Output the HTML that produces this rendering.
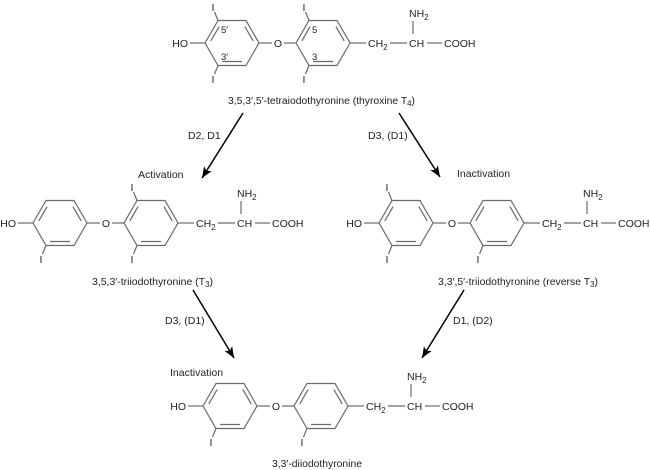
<!DOCTYPE html>
<html><head><meta charset="utf-8"><style>
html,body{margin:0;padding:0;background:#fff;}
svg{display:block;}
text{font-family:"Liberation Sans",Arial,sans-serif;font-size:10.5px;fill:#222;}
.m line,.m polygon{stroke:#6a6a6a;stroke-width:1.2;fill:none;}
.lab{font-size:9.5px;}
.ar{stroke:#000;stroke-width:1.5;fill:none;}
</style></head><body>
<svg width="650" height="470" viewBox="0 0 650 470" xmlns="http://www.w3.org/2000/svg">
<defs>
<g id="ring" fill="none" stroke="#6a6a6a" stroke-width="1.2">
<polygon points="-27,0 -14,-22.5 14,-22.5 27,0 14,22.5 -14,22.5" fill="none" stroke="#6a6a6a" stroke-width="1.2"/>
<line x1="-21.2" y1="-2.05" x2="-12.9" y2="-16.45" stroke="#6a6a6a" stroke-width="1.2"/>
<line x1="12.9" y1="-16.45" x2="21.2" y2="-2.05" stroke="#6a6a6a" stroke-width="1.2"/>
<line x1="-10" y1="18.5" x2="10" y2="18.5" stroke="#6a6a6a" stroke-width="1.2"/>
</g>
<marker id="ah" markerUnits="userSpaceOnUse" markerWidth="12" markerHeight="10" refX="11" refY="4.5" orient="auto">
<path d="M0,0 L11,4.5 L0,9 L2.5,4.5 z" fill="#000"/>
</marker>
</defs>

<!-- T4 -->
<g class="m" transform="translate(278,43)">
<text x="-90" y="4" text-anchor="end">HO</text>
<line x1="-88" y1="0" x2="-73" y2="0"/>
<use href="#ring" x="-46" y="0"/>
<line x1="-19" y1="0" x2="-6" y2="0"/>
<text x="0" y="4" text-anchor="middle">O</text>
<line x1="6" y1="0" x2="18" y2="0"/>
<use href="#ring" x="45" y="0"/>
<line x1="72" y1="0" x2="88" y2="0"/>
<text x="90" y="4">CH<tspan font-size="8" dy="3">2</tspan></text>
<line x1="112" y1="0" x2="129" y2="0"/>
<text x="131" y="4">CH</text>
<line x1="149" y1="0" x2="164" y2="0"/>
<text x="166" y="4">COOH</text>
<line x1="135" y1="-9" x2="135" y2="-22"/>
<text x="131" y="-26">NH<tspan font-size="8" dy="3">2</tspan></text>
<line x1="-60" y1="-22.5" x2="-63.5" y2="-31"/><text x="-65" y="-32" text-anchor="middle">I</text>
<line x1="-60" y1="22.5" x2="-63.5" y2="31"/><text x="-65" y="40" text-anchor="middle">I</text>
<line x1="31" y1="-22.5" x2="27.5" y2="-31"/><text x="26" y="-32" text-anchor="middle">I</text>
<line x1="31" y1="22.5" x2="27.5" y2="31"/><text x="26" y="40" text-anchor="middle">I</text>
<text class="lab" x="-57" y="-10">5′</text>
<text class="lab" x="-57" y="17">3′</text>
<text class="lab" x="34" y="-10">5</text>
<text class="lab" x="34" y="17">3</text>
</g>
<text x="228" y="104" textLength="187" lengthAdjust="spacingAndGlyphs">3,5,3′,5′-tetraiodothyronine (thyroxine T<tspan font-size="8" dy="2">4</tspan><tspan dy="-2">)</tspan></text>

<!-- T3 -->
<g class="m" transform="translate(106,223)">
<text x="-90" y="4" text-anchor="end">HO</text>
<line x1="-88" y1="0" x2="-73" y2="0"/>
<use href="#ring" x="-46" y="0"/>
<line x1="-19" y1="0" x2="-6" y2="0"/>
<text x="0" y="4" text-anchor="middle">O</text>
<line x1="6" y1="0" x2="18" y2="0"/>
<use href="#ring" x="45" y="0"/>
<line x1="72" y1="0" x2="88" y2="0"/>
<text x="90" y="4">CH<tspan font-size="8" dy="3">2</tspan></text>
<line x1="112" y1="0" x2="129" y2="0"/>
<text x="131" y="4">CH</text>
<line x1="149" y1="0" x2="164" y2="0"/>
<text x="166" y="4">COOH</text>
<line x1="135" y1="-9" x2="135" y2="-22"/>
<text x="131" y="-26">NH<tspan font-size="8" dy="3">2</tspan></text>
<line x1="-60" y1="22.5" x2="-63.5" y2="31"/><text x="-65" y="40" text-anchor="middle">I</text>
<line x1="31" y1="-22.5" x2="27.5" y2="-31"/><text x="26" y="-32" text-anchor="middle">I</text>
<line x1="31" y1="22.5" x2="27.5" y2="31"/><text x="26" y="40" text-anchor="middle">I</text>
</g>
<text x="92" y="285" textLength="121" lengthAdjust="spacingAndGlyphs">3,5,3′-triiodothyronine (T<tspan font-size="8" dy="2">3</tspan><tspan dy="-2">)</tspan></text>

<!-- rT3 -->
<g class="m" transform="translate(452,223)">
<text x="-90" y="4" text-anchor="end">HO</text>
<line x1="-88" y1="0" x2="-73" y2="0"/>
<use href="#ring" x="-46" y="0"/>
<line x1="-19" y1="0" x2="-6" y2="0"/>
<text x="0" y="4" text-anchor="middle">O</text>
<line x1="6" y1="0" x2="18" y2="0"/>
<use href="#ring" x="45" y="0"/>
<line x1="72" y1="0" x2="88" y2="0"/>
<text x="90" y="4">CH<tspan font-size="8" dy="3">2</tspan></text>
<line x1="112" y1="0" x2="129" y2="0"/>
<text x="131" y="4">CH</text>
<line x1="149" y1="0" x2="164" y2="0"/>
<text x="166" y="4">COOH</text>
<line x1="135" y1="-9" x2="135" y2="-22"/>
<text x="131" y="-26">NH<tspan font-size="8" dy="3">2</tspan></text>
<line x1="-60" y1="-22.5" x2="-63.5" y2="-31"/><text x="-65" y="-32" text-anchor="middle">I</text>
<line x1="-60" y1="22.5" x2="-63.5" y2="31"/><text x="-65" y="40" text-anchor="middle">I</text>
<line x1="31" y1="22.5" x2="27.5" y2="31"/><text x="26" y="40" text-anchor="middle">I</text>
</g>
<text x="438" y="285" textLength="160" lengthAdjust="spacingAndGlyphs">3,3′,5′-triiodothyronine (reverse T<tspan font-size="8" dy="2">3</tspan><tspan dy="-2">)</tspan></text>

<!-- T2 -->
<g class="m" transform="translate(276,406)">
<text x="-90" y="4" text-anchor="end">HO</text>
<line x1="-88" y1="0" x2="-73" y2="0"/>
<use href="#ring" x="-46" y="0"/>
<line x1="-19" y1="0" x2="-6" y2="0"/>
<text x="0" y="4" text-anchor="middle">O</text>
<line x1="6" y1="0" x2="18" y2="0"/>
<use href="#ring" x="45" y="0"/>
<line x1="72" y1="0" x2="88" y2="0"/>
<text x="90" y="4">CH<tspan font-size="8" dy="3">2</tspan></text>
<line x1="112" y1="0" x2="129" y2="0"/>
<text x="131" y="4">CH</text>
<line x1="149" y1="0" x2="164" y2="0"/>
<text x="166" y="4">COOH</text>
<line x1="135" y1="-9" x2="135" y2="-22"/>
<text x="131" y="-26">NH<tspan font-size="8" dy="3">2</tspan></text>
<line x1="-60" y1="22.5" x2="-63.5" y2="31"/><text x="-65" y="40" text-anchor="middle">I</text>
<line x1="31" y1="22.5" x2="27.5" y2="31"/><text x="26" y="40" text-anchor="middle">I</text>
</g>
<text x="272" y="467" textLength="90" lengthAdjust="spacingAndGlyphs">3,3′-diiodothyronine</text>

<!-- arrows -->
<line class="ar" x1="243" y1="113" x2="202" y2="178" marker-end="url(#ah)"/>
<line class="ar" x1="399" y1="113" x2="440" y2="177" marker-end="url(#ah)"/>
<line class="ar" x1="193" y1="290" x2="234" y2="358" marker-end="url(#ah)"/>
<line class="ar" x1="464" y1="290" x2="422" y2="358" marker-end="url(#ah)"/>

<text x="188" y="139">D2, D1</text>
<text x="368" y="139">D3, (D1)</text>
<text x="138" y="178">Activation</text>
<text x="457" y="177">Inactivation</text>
<text x="165" y="324">D3, (D1)</text>
<text x="453" y="324">D1, (D2)</text>
<text x="170" y="376">Inactivation</text>
</svg>
</body></html>
